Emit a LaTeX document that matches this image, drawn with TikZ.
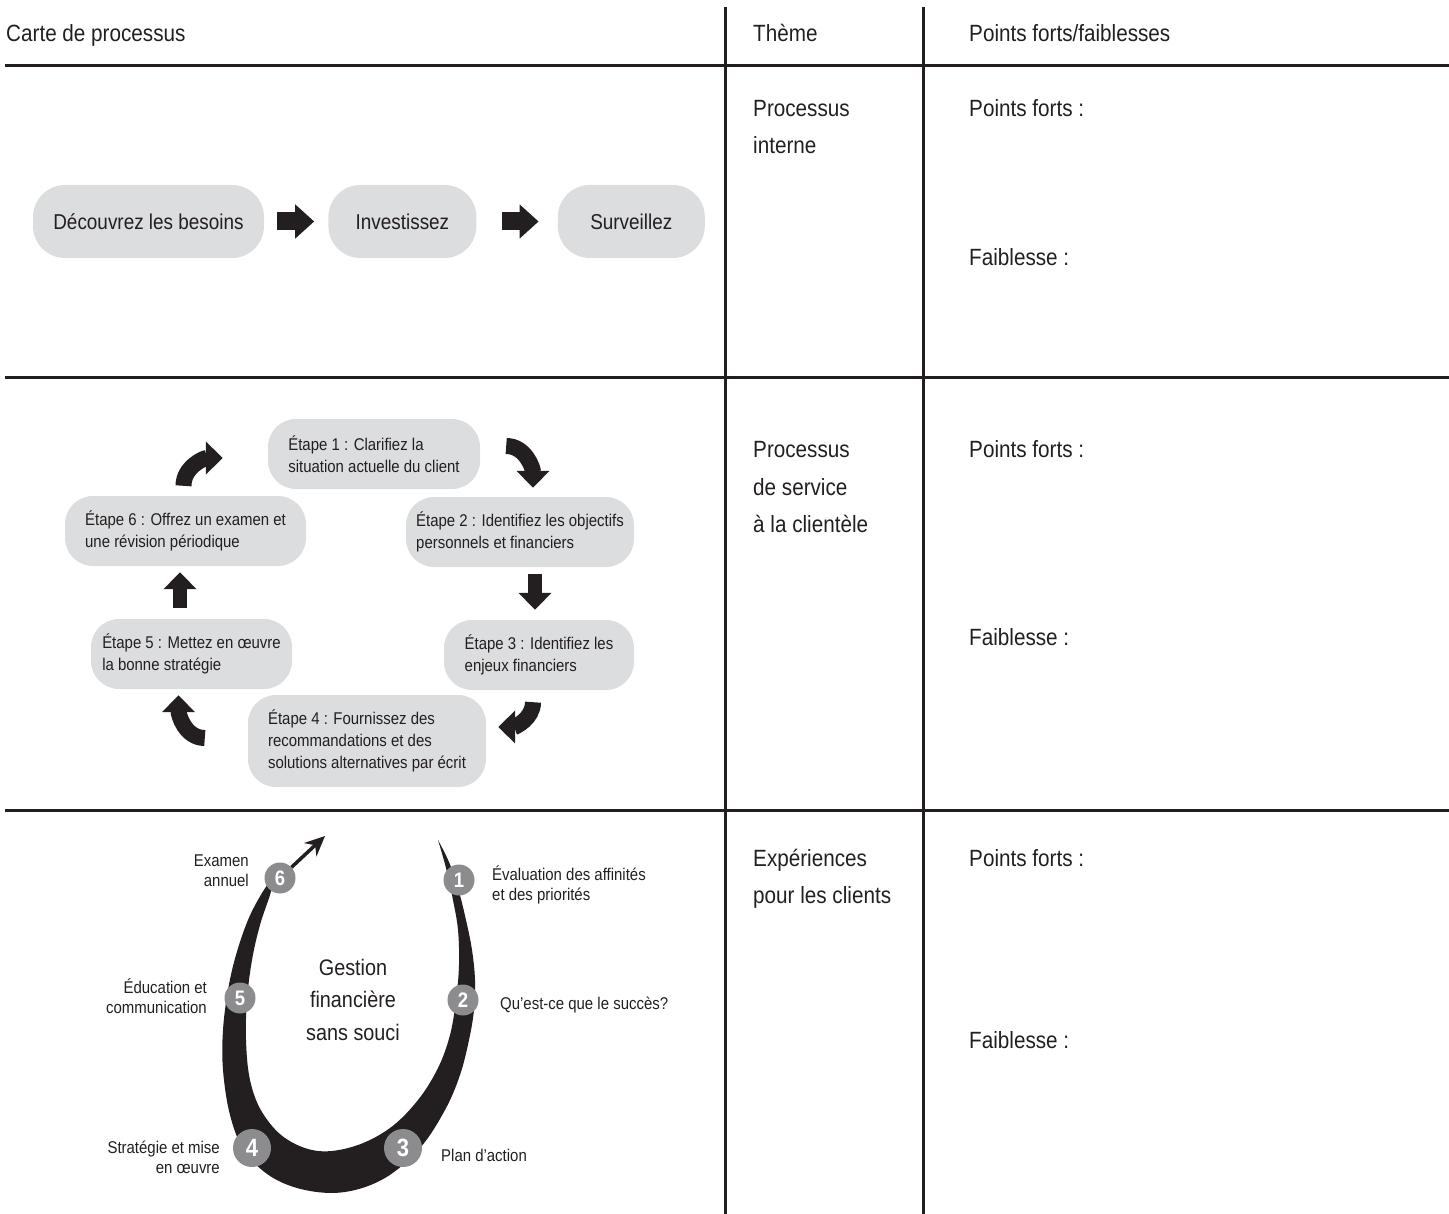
\documentclass[tikz,border=0pt]{standalone}
\usepackage{fontspec}
\setmainfont{Liberation Sans}[FakeStretch=0.88]
\usepackage{tikz}
\usetikzlibrary{calc, positioning}
\usetikzlibrary{arrows.meta}
\definecolor{inkblack}{RGB}{35,31,32}
\definecolor{boxgray}{RGB}{220,221,222}
\definecolor{dotgray}{RGB}{140,140,142}

\begin{document}
\begin{tikzpicture}[x=1pt, y=-1pt, every node/.style={inner sep=0pt, text=inkblack},
    rule/.style={draw=inkblack, line width=3pt},
    headtext/.style={font=\fontsize{23.5}{37}\selectfont, align=left, anchor=base west},
    flowbox/.style={fill=boxgray, rounded corners=32pt, minimum height=73pt, font=\fontsize{21.5}{26}\selectfont},
    stepbox/.style={fill=boxgray, rounded corners=28pt, minimum height=70pt, align=left, font=\fontsize{17}{22}\selectfont},
    flowarrow/.style={draw=inkblack, line width=18pt, -{Triangle[width=33pt, length=19pt]}},
    steparrow/.style={draw=inkblack, line width=14pt, -{Triangle[width=32pt, length=17pt]}},
    bendarrow/.style={steparrow, line width=16pt},
    ringtext/.style={font=\fontsize{17}{20.5}\selectfont},
    numdot/.style={circle, fill=dotgray, text=white}
]
    \useasboundingbox (0,0) rectangle (1449,1214);

    % table rules
    \foreach \yl in {66,378,810}{
        \draw[rule] (5,\yl) -- (1449,\yl);
    }
    \foreach \xl in {725.5,923.5}{
        \draw[rule] (\xl,7) -- (\xl,1214);
    }

    % headers and theme column (base = last line)
    \node[headtext] (hcarte) at (6,42) {Carte de processus};
    \node[headtext] (htheme) at (753,42) {Thème};
    \node[headtext] (hpoints) at (969,42) {Points forts/faiblesses};
    \node[headtext] (theme1) at (753,153.5) {Processus\\interne};
    \node[headtext] (theme2) at (753,532) {Processus\\de service\\à la clientèle};
    \node[headtext] (theme3) at (753,903) {Expériences\\pour les clients};
    \foreach \row/\yp/\yf in {1/116.5/265.5, 2/458/645, 3/866/1048}{
        \node[headtext] (fort\row) at (969,\yp) {Points forts :};
        \node[headtext] (faible\row) at (969,\yf) {Faiblesse :};
    }

    % row 1: internal process
    \node[flowbox, minimum width=231pt] (besoins) at (148.5,221.5) {Découvrez les besoins};
    \node[flowbox, minimum width=148pt, right=64pt of besoins] (invest) {Investissez};
    \node[flowbox, minimum width=147pt, right=81pt of invest] (surv) {Surveillez};
    \draw[flowarrow, shorten <=13pt, shorten >=14pt] (besoins.east) -- (invest.west);
    \draw[flowarrow, shorten <=25pt, shorten >=19pt] (invest.east) -- (surv.west);

    % row 2: service cycle
    \node[stepbox, minimum width=212pt] (etape1) at (374,454) {Étape 1 : Clarifiez la\\situation actuelle du client};
    \node[stepbox, minimum width=228pt] (etape2) at (520,532) {Étape 2 : Identifiez les objectifs\\personnels et financiers};
    \node[stepbox, minimum width=190pt] (etape3) at (539,655) {Étape 3 : Identifiez les\\enjeux financiers};
    \node[stepbox, minimum width=238pt, minimum height=92pt] (etape4) at (367,741) {Étape 4 : Fournissez des\\recommandations et des\\solutions alternatives par écrit};
    \node[stepbox, minimum width=201pt] (etape5) at (191.5,654) {Étape 5 : Mettez en œuvre\\la bonne stratégie};
    \node[stepbox, minimum width=241pt] (etape6) at (185.5,531) {Étape 6 : Offrez un examen et\\une révision périodique};

    \draw[bendarrow] ($(etape1.east)+(26,-8)$) to[out=0, in=90] ($(etape2.north)+(13,-9)$);
    \draw[steparrow] ($(etape2.south)+(15,7)$) -- ($(etape3.north)+(-4,-10)$);
    \draw[bendarrow] ($(etape3.south)+(-6,12)$) to[out=-90, in=0] ($(etape4.east)+(12,-14)$);
    \draw[bendarrow] ($(etape4.west)+(-43,-3)$) to[out=180, in=-90] ($(etape5.south)+(-13,6)$);
    \draw[steparrow] ($(etape5.north)+(-11.5,-11)$) -- ($(etape6.south)+(-5.5,6)$);
    \draw[bendarrow] ($(etape6.north)+(-2,-10)$) to[out=90, in=180] ($(etape1.west)+(-45,4)$);

    % row 3: client experience ring
    \fill[inkblack] plot[smooth, tension=0.6] coordinates {(438,840) (449,862) (458,888) (466,920) (472,950) (475,980) (474,1010) (469,1040) (460,1075) (445,1110) (420,1148) (385,1178) (345,1192) (305,1190) (270,1176) (244,1150) (230,1115) (223,1070) (223,1030) (228,990) (236,955) (248,920) (262,893) (276,873)}
        -- plot[smooth, tension=0.6] coordinates {(276,873) (270,895) (260,925) (252,960) (247,1000) (246,1040) (250,1080) (262,1112) (285,1138) (318,1151) (355,1146) (390,1128) (418,1100) (438,1068) (450,1035) (456,1000) (459,965) (458,930) (453,900) (446,868) (438,840)}
        -- cycle;

    \foreach \n/\px/\py/\dsize/\fsize in {1/459/880/31/21, 2/463/1000/31/21, 3/403/1148/38/25, 4/252/1148/38/25, 5/240/998/31/21, 6/280/878/31/21}{
        \node[numdot, minimum size=\dsize pt, font=\fontsize{\fsize}{\fsize}\selectfont\bfseries] (dot\n) at (\px,\py) {\n};
    }
    \coordinate (ringtip) at (325,836);
    \draw[inkblack, line width=3.5pt, -{Stealth[length=20pt, width=18pt]}] (dot6) -- (ringtip);

    \node[font=\fontsize{22.5}{32.5}\selectfont, align=center, anchor=base] (gestion) at (353,1040) {Gestion\\financière\\sans souci};
    \node[ringtext, align=right, anchor=base east] (lexamen) at (249,886.5) {Examen\\annuel};
    \node[ringtext, align=left, anchor=base west] (leval) at (492,900.5) {Évaluation des affinités\\et des priorités};
    \node[ringtext, align=right, anchor=base east] (leduc) at (207,1013.5) {Éducation et\\communication};
    \node[ringtext, anchor=base west] (lsucces) at (500,1009) {Qu’est-ce que le succès?};
    \node[ringtext, align=right, anchor=base east] (lstrat) at (220,1173.5) {Stratégie et mise\\en œuvre};
    \node[ringtext, anchor=base west] (lplan) at (441,1161) {Plan d’action};
\end{tikzpicture}
\end{document}
